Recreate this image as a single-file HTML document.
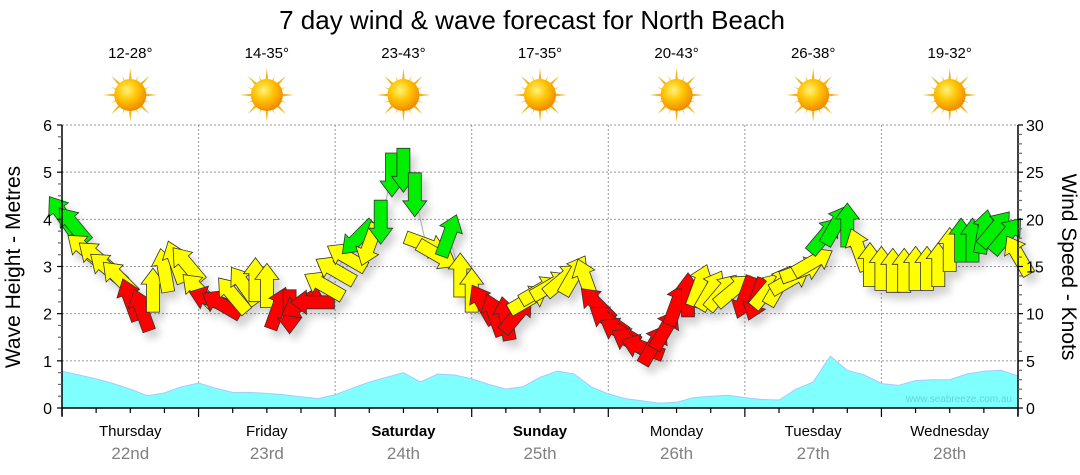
<!DOCTYPE html>
<html><head><meta charset="utf-8">
<style>
html,body{margin:0;padding:0;background:#fff;}
svg{display:block;font-family:"Liberation Sans","DejaVu Sans",sans-serif;}
</style></head>
<body>
<svg id="chart" width="1080" height="475" viewBox="0 0 1080 475">
<defs>
<radialGradient id="sunCore" cx="40%" cy="35%" r="65%">
<stop offset="0" stop-color="#fff27a"/><stop offset="0.5" stop-color="#ffc400"/><stop offset="1" stop-color="#f08a00"/>
</radialGradient>
<filter id="shadow" x="-50%" y="-50%" width="200%" height="200%">
<feGaussianBlur in="SourceAlpha" stdDeviation="4"/>
<feOffset dx="5" dy="7"/>
<feComponentTransfer><feFuncA type="linear" slope="0.18"/></feComponentTransfer>
<feMerge><feMergeNode/><feMergeNode in="SourceGraphic"/></feMerge>
</filter>
</defs>
<text x="532" y="29" text-anchor="middle" font-size="26" fill="#000">7 day wind &amp; wave forecast for North Beach</text>
<text x="20" y="267" text-anchor="middle" font-size="21" transform="rotate(-90 20 267)">Wave Height - Metres</text>
<text x="1062" y="267" text-anchor="middle" font-size="21" transform="rotate(90 1062 267)">Wind Speed - Knots</text>
<g id="grid"></g>
<g id="waves"></g>
<text x="1012" y="402" text-anchor="end" font-size="10" fill="#5fd6d6">www.seabreeze.com.au</text>
<g id="wind" filter="url(#shadow)"></g>
<g id="axes"></g>
<g id="days"></g>
</svg>
<script>
const days = ["Thursday","Friday","Saturday","Sunday","Monday","Tuesday","Wednesday"];
const dates = ["22nd","23rd","24th","25th","26th","27th","28th"];
const bold = [false,false,true,true,false,false,false];
const temps = ["12-28°","14-35°","23-43°","17-35°","20-43°","26-38°","19-32°"];
const waveTicks = [0,1,2,3,4,5,6];
const windTicks = [0,5,10,15,20,25,30];
// wave height, metres, every 3 hours
const waveHeights = [0.78,0.70,0.62,0.52,0.40,0.26,0.32,0.45,0.53,0.42,0.33,0.33,0.31,0.28,0.24,0.20,0.28,0.42,0.55,0.65,0.75,0.55,0.72,0.70,0.62,0.50,0.40,0.45,0.65,0.78,0.72,0.45,0.30,0.20,0.15,0.10,0.12,0.22,0.25,0.27,0.22,0.18,0.17,0.40,0.55,1.10,0.80,0.70,0.52,0.48,0.58,0.60,0.60,0.72,0.78,0.80,0.68];
// wind every 2 hours: speed (knots), arrow direction (deg, 0 = up), colour class
const windKnots = [20.5,19.4,16.8,16,14.8,13.8,11.5,10.4,12.5,14.6,15.5,15.2,12.5,
11.5,11,12,13,13.6,13,10.6,10.2,11,11.2,13,14.6,
16,18,17.3,19.7,24.7,25.2,22.6,17.3,16.2,18.3,14.1,12.5,
11,9.9,9.5,9.9,11.5,12.5,13,13.6,14.1,13.6,11,9.3,
8.1,7,6.4,6.7,8.3,11,12,13,12.5,12.3,12.5,11.7,
11.5,12.5,13,13.6,14.6,15.5,18.3,19.4,19.4,16.8,15.2,14.8,
14.6,14.6,14.8,14.8,15.2,16.8,17.8,17.8,18.7,19,18.3,16.2];
const windDir = [-35,-40,-50,-50,-50,-45,-20,-20,0,-10,-20,-40,-45,
-70,-60,-40,-35,0,0,20,180,-120,-90,-60,-60,
-60,225,200,180,180,180,180,110,120,20,0,0,
-30,-20,-10,40,60,60,60,50,30,-20,-45,-55,
-60,-60,-70,30,30,20,0,20,30,40,50,200,
200,40,30,60,70,60,40,30,0,-20,0,0,
0,0,0,0,0,0,0,0,10,40,40,-30];
const windClass = ["g","g","y","y","y","y","r","r","y","y","y","y","y",
"r","r","y","y","y","y","r","r","r","r","y","y",
"y","g","y","g","g","g","g","y","y","g","y","y",
"r","r","r","r","y","y","y","y","y","y","r","r",
"r","r","r","r","r","r","r","y","y","y","y","r",
"r","y","y","y","y","y","g","g","g","y","y","y",
"y","y","y","y","y","y","g","g","g","g","g","y"];

const NS="http://www.w3.org/2000/svg";
const X0=62, X1=1018, Y0=408, Y6=125;
const dayW=(X1-X0)/7;
function xHours(h){return X0+h/(24*7)*(X1-X0);}
function yWave(m){return Y0-m/6*(Y0-Y6);}
function yWind(k){return Y0-k/30*(Y0-Y6);}
function mk(tag,attrs,parent){const e=document.createElementNS(NS,tag);for(const k in attrs)e.setAttribute(k,attrs[k]);parent.appendChild(e);return e;}
const grid=document.getElementById('grid'),axes=document.getElementById('axes'),dg=document.getElementById('days'),wv=document.getElementById('waves'),wind=document.getElementById('wind');

waveTicks.forEach(t=>{if(t===0)return;const l=mk('line',{x1:X0,x2:X1,y1:yWave(t),y2:yWave(t),stroke:'#999','stroke-dasharray':'2,2','stroke-width':1},grid);

});
for(let d=1;d<7;d++){const l=mk('line',{x1:X0+d*dayW,x2:X0+d*dayW,y1:Y6,y2:Y0,stroke:'#999','stroke-dasharray':'2,2','stroke-width':1},grid);

}

let pts=`${X0},${Y0} `;
waveHeights.forEach((v,i)=>{pts+=`${xHours(i*3).toFixed(1)},${yWave(v).toFixed(1)} `;});
pts+=`${X1},${Y0}`;
const area=mk('polygon',{points:pts,fill:'#80ffff',stroke:'#a8c8ff','stroke-width':1},wv);



let lp='';windKnots.forEach((k,i)=>{lp+=`${xHours(i*2).toFixed(1)},${yWind(k).toFixed(1)} `;});
const wl=mk('polyline',{points:lp,fill:'none',stroke:'#aaa','stroke-width':1},wind);


const cols={g:'#00ee00',y:'#ffff00',r:'#ff0000'};
const arrowPath="M0,-22 L12,-6 L6.5,-6 L6.5,22 L-6.5,22 L-6.5,-6 L-12,-6 Z";
windKnots.forEach((k,i)=>{
 const a=mk('path',{d:arrowPath,fill:cols[windClass[i]],stroke:'#333','stroke-width':0.8,'stroke-linejoin':'miter',
  transform:`translate(${xHours(i*2).toFixed(1)},${yWind(k).toFixed(1)}) rotate(${windDir[i]})`},wind);
 
 
});

mk('line',{x1:X0,x2:X0,y1:Y6,y2:Y0+8,stroke:'#000','stroke-width':1.5},axes);
mk('line',{x1:X1,x2:X1,y1:Y6,y2:Y0+8,stroke:'#000','stroke-width':1.5},axes);
mk('line',{x1:X0,x2:X1,y1:Y0,y2:Y0,stroke:'#000','stroke-width':1.5},axes);
for(let m=0;m<=24;m++){const y=yWave(m/4);mk('line',{x1:X0-(m%4===0?5:4),x2:X0,y1:y,y2:y,stroke:m%4===0?'#000':'#666','stroke-width':1.2},axes);}
for(let k=0;k<=30;k++){const y=yWind(k);mk('line',{x1:X1,x2:X1+(k%5===0?5:4),y1:y,y2:y,stroke:k%5===0?'#000':'#666','stroke-width':1.2},axes);}
waveTicks.forEach(t=>{const e=mk('text',{x:X0-10,y:yWave(t)+6,'text-anchor':'end','font-size':16},axes);e.textContent=t;

});
windTicks.forEach(t=>{const e=mk('text',{x:X1+8,y:yWind(t)+6,'text-anchor':'start','font-size':16},axes);e.textContent=t;

});
for(let q=0;q<=28;q++){const x=X0+q*dayW/4;mk('line',{x1:x,x2:x,y1:Y0,y2:Y0+(q%4===0?9:5),stroke:'#000','stroke-width':1.2},axes);}

days.forEach((d,i)=>{
 const cx=X0+(i+0.5)*dayW;
 const t=mk('text',{x:cx,y:436,'text-anchor':'middle','font-size':15,'font-weight':bold[i]?'bold':'normal'},dg);t.textContent=d;
 
 
 const dt=mk('text',{x:cx,y:459,'text-anchor':'middle','font-size':17,fill:'#808080'},dg);dt.textContent=dates[i];
 
 
 const tp=mk('text',{x:cx,y:58,'text-anchor':'middle','font-size':15},dg);tp.textContent=temps[i];
 
 
 const g=mk('g',{transform:`translate(${cx},${95})`},dg);
 
 
 for(let r=0;r<16;r++){const long=r%2===0;const L=long?27:21;
  mk('polygon',{points:`-3,0 0,-${L} 3,0`,fill:long?'#f2b316':'#f7c84a',transform:`rotate(${r*22.5})`},g);}
 mk('circle',{r:16,fill:'url(#sunCore)'},g);
});
</script>
</body></html>
